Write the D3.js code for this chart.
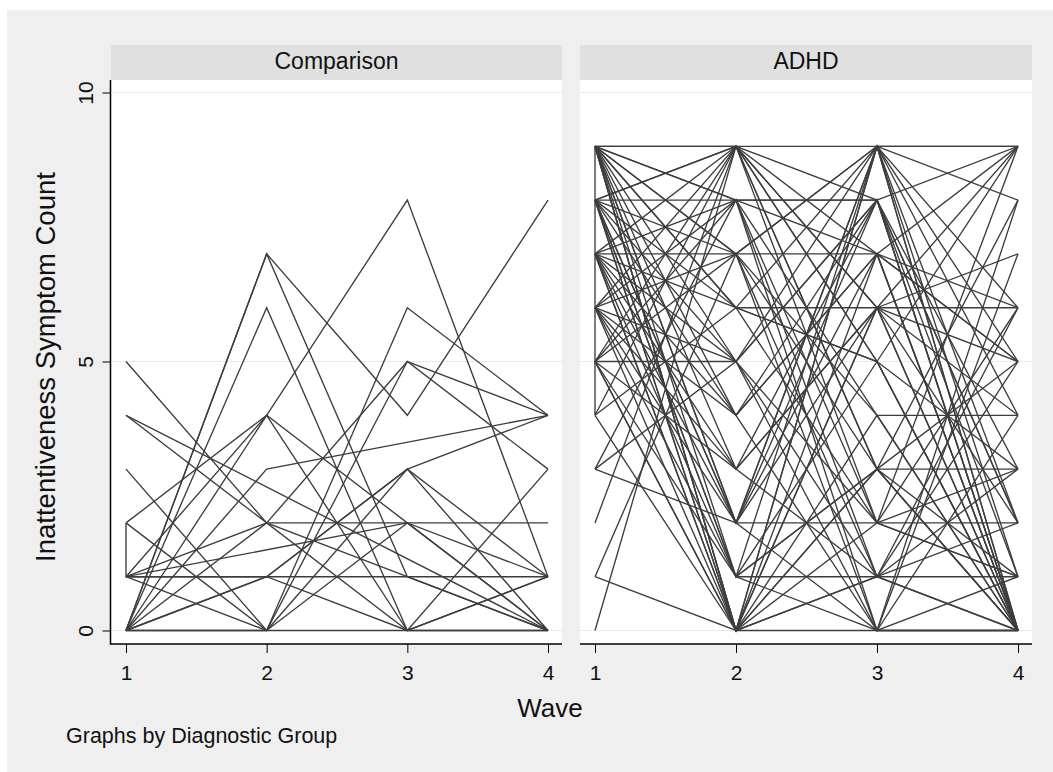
<!DOCTYPE html>
<html>
<head>
<meta charset="utf-8">
<script src="https://cdn.jsdelivr.net/npm/d3@7/dist/d3.min.js"></script>
<style>
  body { margin: 0; background: #ffffff; }
  svg { display: block; font-family: "Liberation Sans", Arial, sans-serif; }
</style>
</head>
<body>
<script>
// waves on the x axis, tick values on the y axis
var waves = [1, 2, 3, 4];
var yTicks = [0, 5, 10];
var groupNames = ["Comparison", "ADHD"];

// one row per child: symptom count at wave 1..4 (null = not observed)
var comparisonScores = [
    [0, 0, 0, 0],
    [0, 7, 4, 8],
    [0, 7, 1, 0],
    [0, 6, 0, 3],
    [2, 4, 8, 1],
    [1, 4, 0, 1],
    [0, 4, 2, 0],
    [0, 3, null, 4],
    [1, 2, 2, 2],
    [5, 2, 1, 0],
    [4, 2, 5, 3],
    [4, null, null, 0],
    [3, 0, 5, 4],
    [1, 0, 6, 4],
    [2, null, null, null],
    [1, 1, 1, 1],
    [1, 1, 3, 4],
    [1, null, 2, 0],
    [0, 1, 3, 1],
    [0, 2, 0, 1],
    [0, 1, 0, 0],
    [2, 0, 2, 1],
    [0, 0, 3, 0]
];

var adhdScores = [
    [9, 9, 9, 9],
    [9, 0, 3, 0],
    [9, 0, 1, 2],
    [9, 2, 9, 5],
    [9, 7, 9, 0],
    [9, 5, 8, 0],
    [9, 8, 7, 6],
    [9, 3, 6, 0],
    [9, 9, 5, 0],
    [9, 0, 6, 4],
    [9, 6, 2, 9],
    [9, 4, 0, 1],
    [9, 1, 3, 5],
    [8, 8, 8, 3],
    [8, 0, 4, 0],
    [8, 9, 3, 0],
    [8, 2, 7, 9],
    [8, 6, 9, 2],
    [8, 0, 1, 5],
    [8, 7, 0, 8],
    [8, 4, 8, 1],
    [8, 9, 6, 0],
    [8, 1, 5, 9],
    [7, 7, 7, 5],
    [7, 0, 9, 0],
    [7, 9, 2, 3],
    [7, 3, 1, 6],
    [7, 8, 4, 4],
    [7, 0, 6, 2],
    [7, 5, 0, 7],
    [7, 2, 8, 0],
    [6, 9, 5, 0],
    [6, 0, 3, 8],
    [6, 7, 9, 1],
    [6, 5, 2, 6],
    [6, 8, 1, 0],
    [6, 2, 6, 9],
    [5, 5, 8, 2],
    [5, 0, 7, 5],
    [5, 9, 3, 0],
    [5, 7, 1, 3],
    [5, 3, 6, 7],
    [5, 1, 9, 6],
    [9, null, null, null],
    [4, 9, 8, 2],
    [4, 6, 5, 3],
    [3, 8, 0, 0],
    [3, 2, 9, 4],
    [2, 9, 6, 5],
    [1, 0, 2, 1],
    [1, 7, 4, 0],
    [0, 9, 7, 0],
    [9, 6, 6, 6],
    [8, 2, 2, 2],
    [7, 1, 1, 1],
    [5, 0, 0, 0],
    [6, 1, 3, 3],
    [9, 8, 8, 9],
    [7, 4, 7, 0],
    [8, 5, 9, 9],
    [6, 3, 8, 0],
    [9, 2, 0, 0],
    [5, 8, 2, 1],
    [4, 0, 9, 8],
    [7, 6, 5, 0],
    [8, 1, 0, 4],
    [9, 7, 3, 1],
    [6, 4, 7, 0],
    [3, 5, 1, 0]
];

var W = 1053, H = 772;
var plotTop = 80, plotBottom = 644, stripTop = 45;
var panels = [
    { name: groupNames[0], scores: comparisonScores, left: 111, right: 562 },
    { name: groupNames[1], scores: adhdScores, left: 580, right: 1032 }
];

var svg = d3.select("body").append("svg").attr("width", W).attr("height", H);
svg.append("rect").attr("width", W).attr("height", H).attr("fill", "#ffffff");
svg.append("rect").attr("x", 7).attr("y", 10).attr("width", W - 7).attr("height", H - 10).attr("fill", "#efefef");

var y = d3.scaleLinear().domain([0, 10]).range([630.5, 92.5]);

// stata-style connect: join observations in row order, break when wave goes back
function runsOf(scores) {
    var runs = [], run = [], lastWave = 99;
    scores.forEach(function (row) {
        row.forEach(function (v, i) {
            if (v === null) return;
            if (waves[i] < lastWave && run.length) { runs.push(run); run = []; }
            run.push([waves[i], v]);
            lastWave = waves[i];
        });
    });
    if (run.length) runs.push(run);
    return runs;
}

panels.forEach(function (p, k) {
    var x = d3.scaleLinear().domain([1, 4]).range([p.left + 15, p.right - 14]);
    var g = svg.append("g");

    // header strip
    g.append("rect").attr("x", p.left).attr("y", stripTop).attr("width", p.right - p.left).attr("height", plotTop - stripTop).attr("fill", "#e0e0e0");
    g.append("text").attr("x", (p.left + p.right) / 2).attr("y", 69).attr("text-anchor", "middle")
        .attr("font-size", 23).attr("fill", "#111").text(p.name);

    // plot region
    g.append("rect").attr("x", p.left).attr("y", plotTop).attr("width", p.right - p.left).attr("height", plotBottom - plotTop).attr("fill", "#ffffff");
    g.selectAll("line.grid").data(yTicks).enter().append("line").attr("class", "grid")
        .attr("x1", p.left).attr("x2", p.right)
        .attr("y1", function (d) { return y(d); }).attr("y2", function (d) { return y(d); })
        .attr("stroke", "#eaeaea").attr("stroke-width", 1);

    var line = d3.line().x(function (d) { return x(d[0]); }).y(function (d) { return y(d[1]); });
    g.selectAll("path.traj").data(runsOf(p.scores)).enter().append("path").attr("class", "traj")
        .attr("d", line).attr("fill", "none").attr("stroke", "#3d3d3d").attr("stroke-width", 1.35);

    // x axis
    var xa = g.append("g").attr("transform", "translate(0," + plotBottom + ")")
        .call(d3.axisBottom(x).tickValues(waves).tickFormat(d3.format("d")).tickSize(9).tickSizeOuter(0).tickPadding(12));
    xa.select(".domain").remove();
    xa.selectAll(".tick line").attr("stroke", "#000");
    xa.selectAll(".tick text").attr("font-size", 21).attr("fill", "#111").attr("font-family", "Liberation Sans, Arial, sans-serif");
    g.append("line").attr("x1", p.left).attr("x2", p.right).attr("y1", plotBottom).attr("y2", plotBottom)
        .attr("stroke", "#000").attr("stroke-width", 1.5);

    if (k === 0) {
        var ya = g.append("g").attr("transform", "translate(110.5,0)")
            .call(d3.axisLeft(y).tickValues(yTicks).tickSize(8).tickSizeOuter(0));
        ya.select(".domain").remove();
        ya.selectAll(".tick line").attr("stroke", "#000");
        ya.selectAll(".tick text").attr("transform", "rotate(-90)").attr("x", 0).attr("y", -18)
            .attr("dy", 0).attr("text-anchor", "middle").attr("font-size", 21).attr("fill", "#111")
            .attr("font-family", "Liberation Sans, Arial, sans-serif");
        g.append("line").attr("x1", 110.5).attr("x2", 110.5).attr("y1", plotTop).attr("y2", plotBottom + 0.75)
            .attr("stroke", "#000").attr("stroke-width", 1.5);
    }
});

svg.append("text").attr("transform", "translate(55,367) rotate(-90)").attr("text-anchor", "middle")
    .attr("font-size", 27.5).attr("fill", "#111").text("Inattentiveness Symptom Count");
svg.append("text").attr("x", 550).attr("y", 717).attr("text-anchor", "middle")
    .attr("font-size", 26).attr("fill", "#111").text("Wave");
svg.append("text").attr("x", 66).attr("y", 743)
    .attr("font-size", 21.5).attr("fill", "#111").text("Graphs by Diagnostic Group");
</script>
</body>
</html>
